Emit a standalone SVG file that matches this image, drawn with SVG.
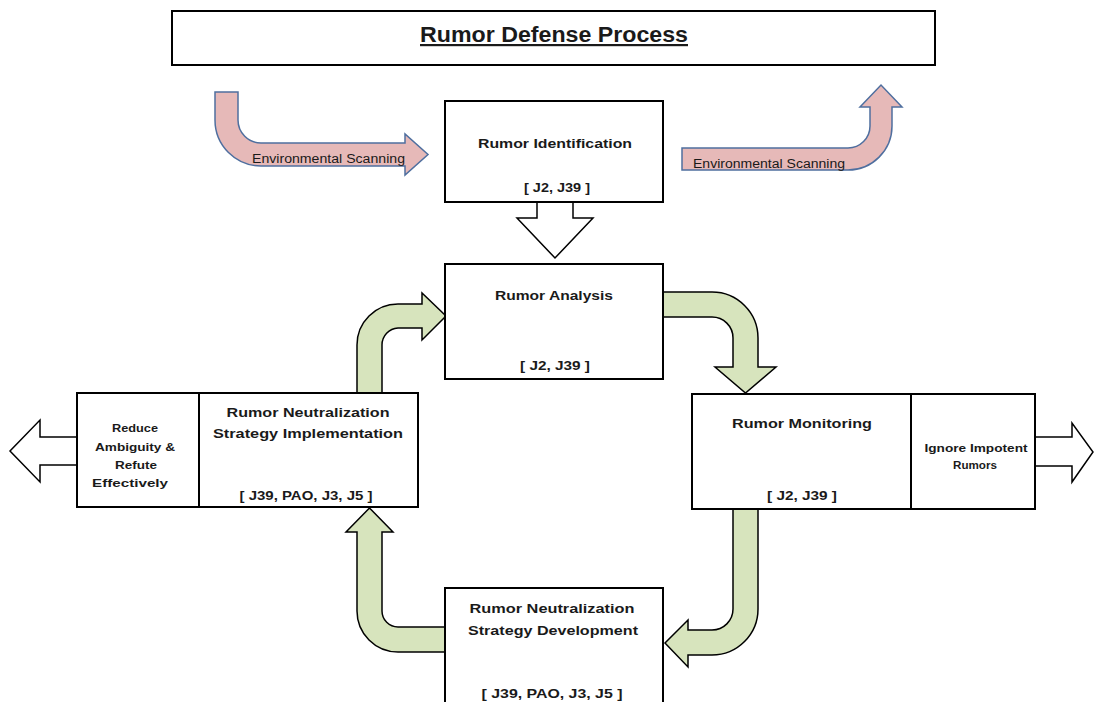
<svg xmlns="http://www.w3.org/2000/svg" width="1094" height="702" viewBox="0 0 1094 702">
<style>
.box{fill:#fff;stroke:#000;stroke-width:2}
.t{font-family:"Liberation Sans",Arial,sans-serif;font-weight:bold;fill:#1a1a1a;text-anchor:middle}
.m{font-size:13px}
.s{font-size:11px}
.env{font-family:"Liberation Sans",Arial,sans-serif;font-weight:normal;font-size:12px;fill:#1a1a1a;text-anchor:middle}
.pink{fill:#e6b9b8;stroke:#4f6f9f;stroke-width:1.5}
.green{fill:#d7e4bd;stroke:#000;stroke-width:1.5}
.hollow{fill:#fff;stroke:#000;stroke-width:1.5}
</style>
<rect width="1094" height="702" fill="#fff"/>
<g id="title">
<rect class="box" x="172" y="11" width="763" height="54" stroke-width="2.5"/>
<text class="t" x="554" y="42" font-size="22" text-decoration="underline" textLength="268" lengthAdjust="spacingAndGlyphs">Rumor Defense Process</text>
</g>
<g id="connectors">
<path class="pink" d="M215,92 L238,92 L238,120 A23 23 0 0 0 261,143 L405,143 L405,134 L428,154.5 L405,175 L405,166 L261,166 A46 46 0 0 1 215,120 Z"/>
<text class="env" x="328.5" y="163" textLength="153" lengthAdjust="spacingAndGlyphs">Environmental Scanning</text>
<path class="pink" d="M682,148 L848,148 A22 22 0 0 0 870,126 L870,107 L860,107 L881,85 L902,107 L892,107 L892,126 A44 44 0 0 1 848,170 L682,170 Z"/>
<text class="env" x="769" y="168" textLength="152" lengthAdjust="spacingAndGlyphs">Environmental Scanning</text>
<path class="hollow" d="M537,202 L537,218 L517,218 L555,258 L593,218 L573,218 L573,202"/>
<path class="green" d="M357,393 L357,345 A41 41 0 0 1 398,304 L422,304 L422,293 L446,316 L422,340 L422,328 L398,328 A17 17 0 0 0 382,345 L382,393 Z"/>
<path class="green" d="M663,292 L712,292 A46 46 0 0 1 758,338 L758,367 L776,367 L745.5,393 L715,367 L733,367 L733,338 A21 21 0 0 0 712,317 L663,317 Z"/>
<path class="green" d="M733,509 L758,509 L758,609 A46 46 0 0 1 712,655 L688,655 L688,667 L665,643 L688,620 L688,630 L712,630 A21 21 0 0 0 733,609 Z"/>
<path class="green" d="M445,627 L398,627 A16 16 0 0 1 382,611 L382,532 L393,532 L369.5,508 L346,532 L357,532 L357,611 A41 41 0 0 0 398,652 L445,652 Z"/>
<path class="hollow" d="M77,437 L40,437 L40,420 L10,451 L40,482 L40,465 L77,465"/>
<path class="hollow" d="M1035,437 L1072,437 L1072,423 L1093,452 L1072,482 L1072,466 L1035,466"/>
</g>
<g id="identification">
<rect class="box" x="445" y="101" width="218" height="101"/>
<text class="t m" x="555" y="148" textLength="154" lengthAdjust="spacingAndGlyphs">Rumor Identification</text>
<text class="t m" x="557" y="192" textLength="66" lengthAdjust="spacingAndGlyphs">[ J2, J39 ]</text>
</g>
<g id="analysis">
<rect class="box" x="445" y="264" width="218" height="115"/>
<text class="t m" x="554" y="300" textLength="118" lengthAdjust="spacingAndGlyphs">Rumor Analysis</text>
<text class="t m" x="555" y="370" textLength="70" lengthAdjust="spacingAndGlyphs">[ J2, J39 ]</text>
</g>
<g id="monitoring">
<rect class="box" x="692" y="394" width="219" height="115"/>
<rect class="box" x="911" y="394" width="124" height="115"/>
<text class="t m" x="802" y="428" textLength="140" lengthAdjust="spacingAndGlyphs">Rumor Monitoring</text>
<text class="t m" x="802" y="500" textLength="70" lengthAdjust="spacingAndGlyphs">[ J2, J39 ]</text>
<text class="t s" x="976" y="452" textLength="103" lengthAdjust="spacingAndGlyphs">Ignore Impotent</text>
<text class="t" x="975" y="469" font-size="10" textLength="44" lengthAdjust="spacingAndGlyphs">Rumors</text>
</g>
<g id="implementation">
<rect class="box" x="77" y="393" width="122" height="114"/>
<rect class="box" x="199" y="393" width="219" height="114"/>
<text class="t m" x="308" y="417" textLength="163" lengthAdjust="spacingAndGlyphs">Rumor Neutralization</text>
<text class="t m" x="308" y="438" textLength="190" lengthAdjust="spacingAndGlyphs">Strategy Implementation</text>
<text class="t m" x="306" y="500" textLength="133" lengthAdjust="spacingAndGlyphs">[ J39, PAO, J3, J5 ]</text>
<text class="t s" x="135" y="432" textLength="46" lengthAdjust="spacingAndGlyphs">Reduce</text>
<text class="t s" x="135" y="451" textLength="80" lengthAdjust="spacingAndGlyphs">Ambiguity &amp;</text>
<text class="t s" x="136" y="469" textLength="42" lengthAdjust="spacingAndGlyphs">Refute</text>
<text class="t s" x="130" y="487" textLength="76" lengthAdjust="spacingAndGlyphs">Effectively</text>
</g>
<g id="development">
<rect class="box" x="445" y="588" width="218" height="120"/>
<text class="t m" x="552" y="613" textLength="165" lengthAdjust="spacingAndGlyphs">Rumor Neutralization</text>
<text class="t m" x="553" y="635" textLength="170" lengthAdjust="spacingAndGlyphs">Strategy Development</text>
<text class="t m" x="552" y="698" textLength="141" lengthAdjust="spacingAndGlyphs">[ J39, PAO, J3, J5 ]</text>
</g>
</svg>
